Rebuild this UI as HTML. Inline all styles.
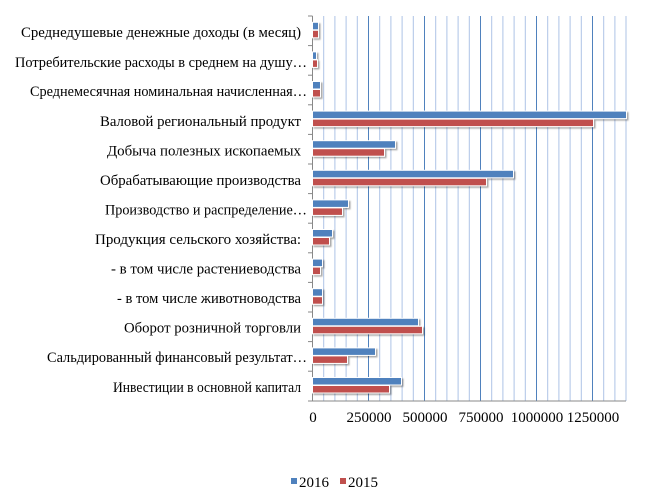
<!DOCTYPE html>
<html><head><meta charset="utf-8"><style>
html,body{margin:0;padding:0;background:#fff;}
svg{display:block;font-family:"Liberation Serif",serif;}
</style></head><body>
<svg width="647" height="497" viewBox="0 0 647 497" xmlns="http://www.w3.org/2000/svg">
<defs><filter id="sh" x="-5%" y="-30%" width="110%" height="160%"><feDropShadow dx="1.5" dy="1.5" stdDeviation="0.8" flood-color="#000" flood-opacity="0.35"/></filter></defs>
<g stroke="#aec3e6" stroke-width="1">
<line x1="323.7" y1="16" x2="323.7" y2="401"/><line x1="334.9" y1="16" x2="334.9" y2="401"/><line x1="346.1" y1="16" x2="346.1" y2="401"/><line x1="357.3" y1="16" x2="357.3" y2="401"/>
<line x1="379.7" y1="16" x2="379.7" y2="401"/><line x1="390.9" y1="16" x2="390.9" y2="401"/><line x1="402.1" y1="16" x2="402.1" y2="401"/><line x1="413.3" y1="16" x2="413.3" y2="401"/>
<line x1="435.7" y1="16" x2="435.7" y2="401"/><line x1="446.9" y1="16" x2="446.9" y2="401"/><line x1="458.1" y1="16" x2="458.1" y2="401"/><line x1="469.3" y1="16" x2="469.3" y2="401"/>
<line x1="491.7" y1="16" x2="491.7" y2="401"/><line x1="502.9" y1="16" x2="502.9" y2="401"/><line x1="514.1" y1="16" x2="514.1" y2="401"/><line x1="525.3" y1="16" x2="525.3" y2="401"/>
<line x1="547.7" y1="16" x2="547.7" y2="401"/><line x1="558.9" y1="16" x2="558.9" y2="401"/><line x1="570.1" y1="16" x2="570.1" y2="401"/><line x1="581.3" y1="16" x2="581.3" y2="401"/>
<line x1="603.7" y1="16" x2="603.7" y2="401"/><line x1="614.9" y1="16" x2="614.9" y2="401"/><line x1="626" y1="16" x2="626" y2="401"/>
</g>
<g stroke="#4f81bd" stroke-width="1">
<line x1="368.5" y1="16" x2="368.5" y2="401"/><line x1="424.5" y1="16" x2="424.5" y2="401"/><line x1="480.5" y1="16" x2="480.5" y2="401"/><line x1="536.5" y1="16" x2="536.5" y2="401"/><line x1="592.5" y1="16" x2="592.5" y2="401"/>
</g>
<g stroke="#888" stroke-width="1">
<line x1="312.5" y1="16" x2="312.5" y2="401"/>
<line x1="312.5" y1="401" x2="626" y2="401"/>
<line x1="308" y1="16" x2="312.5" y2="16"/><line x1="308" y1="45.6" x2="312.5" y2="45.6"/><line x1="308" y1="75.2" x2="312.5" y2="75.2"/><line x1="308" y1="104.8" x2="312.5" y2="104.8"/><line x1="308" y1="134.4" x2="312.5" y2="134.4"/><line x1="308" y1="164" x2="312.5" y2="164"/><line x1="308" y1="193.6" x2="312.5" y2="193.6"/><line x1="308" y1="223.2" x2="312.5" y2="223.2"/><line x1="308" y1="252.8" x2="312.5" y2="252.8"/><line x1="308" y1="282.4" x2="312.5" y2="282.4"/><line x1="308" y1="312" x2="312.5" y2="312"/><line x1="308" y1="341.6" x2="312.5" y2="341.6"/><line x1="308" y1="371.2" x2="312.5" y2="371.2"/><line x1="308" y1="401" x2="312.5" y2="401"/>
</g>
<g filter="url(#sh)" stroke="#fff" stroke-width="1">
<rect x="312.5" y="22.3" width="6" height="7.5" fill="#4f81bd"/><rect x="312.5" y="30.3" width="6" height="7.5" fill="#c0504d"/>
<rect x="312.5" y="51.9" width="4" height="7.5" fill="#4f81bd"/><rect x="312.5" y="59.9" width="5" height="7.5" fill="#c0504d"/>
<rect x="312.5" y="81.5" width="8" height="7.5" fill="#4f81bd"/><rect x="312.5" y="89.5" width="8" height="7.5" fill="#c0504d"/>
<rect x="312.5" y="111.1" width="314" height="7.5" fill="#4f81bd"/><rect x="312.5" y="119.1" width="281" height="7.5" fill="#c0504d"/>
<rect x="312.5" y="140.7" width="83" height="7.5" fill="#4f81bd"/><rect x="312.5" y="148.7" width="72" height="7.5" fill="#c0504d"/>
<rect x="312.5" y="170.3" width="201" height="7.5" fill="#4f81bd"/><rect x="312.5" y="178.3" width="174" height="7.5" fill="#c0504d"/>
<rect x="312.5" y="199.9" width="36" height="7.5" fill="#4f81bd"/><rect x="312.5" y="207.9" width="30" height="7.5" fill="#c0504d"/>
<rect x="312.5" y="229.5" width="20" height="7.5" fill="#4f81bd"/><rect x="312.5" y="237.5" width="17" height="7.5" fill="#c0504d"/>
<rect x="312.5" y="259.1" width="10" height="7.5" fill="#4f81bd"/><rect x="312.5" y="267.1" width="8" height="7.5" fill="#c0504d"/>
<rect x="312.5" y="288.7" width="10" height="7.5" fill="#4f81bd"/><rect x="312.5" y="296.7" width="10" height="7.5" fill="#c0504d"/>
<rect x="312.5" y="318.3" width="106" height="7.5" fill="#4f81bd"/><rect x="312.5" y="326.3" width="110" height="7.5" fill="#c0504d"/>
<rect x="312.5" y="347.9" width="63" height="7.5" fill="#4f81bd"/><rect x="312.5" y="355.9" width="35" height="7.5" fill="#c0504d"/>
<rect x="312.5" y="377.5" width="89" height="7.5" fill="#4f81bd"/><rect x="312.5" y="385.5" width="77" height="7.5" fill="#c0504d"/>
</g>
<g font-size="15" fill="#000">
<text x="21" y="37" textLength="280" lengthAdjust="spacingAndGlyphs">Среднедушевые денежные доходы (в месяц)</text>
<text x="15" y="67" textLength="292" lengthAdjust="spacingAndGlyphs">Потребительские расходы в среднем на душу…</text>
<text x="30" y="96" textLength="277" lengthAdjust="spacingAndGlyphs">Среднемесячная номинальная начисленная…</text>
<text x="100" y="126" textLength="201" lengthAdjust="spacingAndGlyphs">Валовой региональный продукт</text>
<text x="107" y="155.5" textLength="194" lengthAdjust="spacingAndGlyphs">Добыча полезных ископаемых</text>
<text x="100" y="185" textLength="201" lengthAdjust="spacingAndGlyphs">Обрабатывающие производства</text>
<text x="105" y="214.5" textLength="202" lengthAdjust="spacingAndGlyphs">Производство и распределение…</text>
<text x="95" y="244" textLength="206" lengthAdjust="spacingAndGlyphs">Продукция сельского хозяйства:</text>
<text x="111" y="273.5" textLength="190" lengthAdjust="spacingAndGlyphs">- в том числе растениеводства</text>
<text x="117" y="303" textLength="184" lengthAdjust="spacingAndGlyphs">- в том числе животноводства</text>
<text x="124" y="332.5" textLength="177" lengthAdjust="spacingAndGlyphs">Оборот розничной торговли</text>
<text x="47" y="362" textLength="260" lengthAdjust="spacingAndGlyphs">Сальдированный финансовый результат…</text>
<text x="113" y="392" textLength="188" lengthAdjust="spacingAndGlyphs">Инвестиции в основной капитал</text>
</g>
<g font-size="15" fill="#000" text-anchor="middle">
<text x="313" y="422">0</text><text x="369" y="422">250000</text><text x="425" y="422">500000</text><text x="481" y="422">750000</text><text x="537" y="422">1000000</text><text x="593" y="422">1250000</text>
</g>
<rect x="291" y="478" width="6" height="6" fill="#4f81bd"/>
<text x="299" y="487" font-size="15">2016</text>
<rect x="340" y="478" width="6" height="6" fill="#c0504d"/>
<text x="348" y="487" font-size="15">2015</text>
</svg>
</body></html>
